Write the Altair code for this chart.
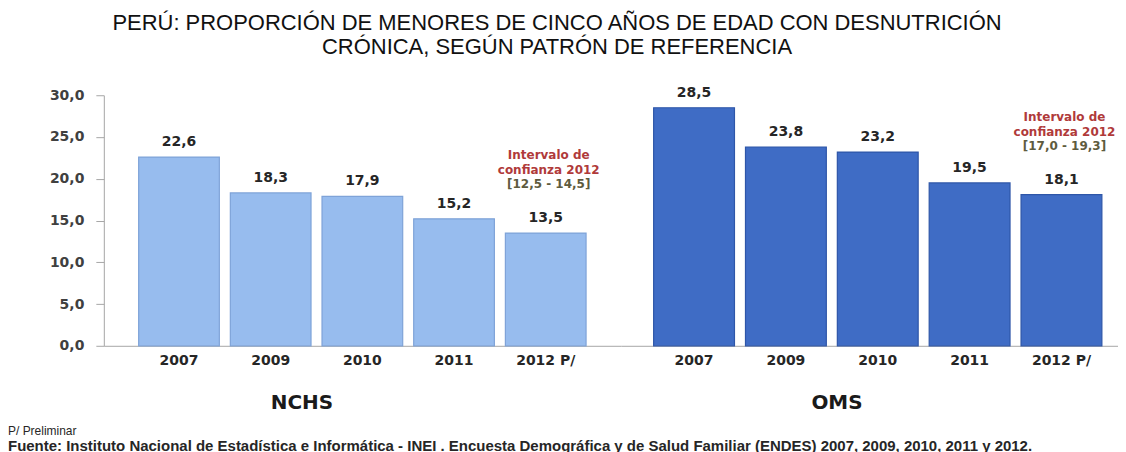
import altair as alt
import pandas as pd

# ---- data ----
years = ["2007", "2009", "2010", "2011", "2012 P/"]
nchs = [22.6, 18.3, 17.9, 15.2, 13.5]
oms = [28.5, 23.8, 23.2, 19.5, 18.1]
groups = ["NCHS", "OMS"]
ci_head = "Intervalo de\nconfianza 2012"
ci_ranges = ["[12,5 - 14,5]", "[17,0 - 19,3]"]
y_ticks = [0, 5, 10, 15, 20, 25, 30]

title_lines = [
    "PERÚ: PROPORCIÓN DE MENORES DE CINCO AÑOS DE EDAD CON DESNUTRICIÓN",
    "CRÓNICA,  SEGÚN PATRÓN DE REFERENCIA",
]
note = "P/ Preliminar"
source = ("Fuente: Instituto Nacional de Estadística e Informática - INEI . Encuesta Demográfica "
          "y de Salud Familiar (ENDES)  2007, 2009, 2010, 2011 y 2012.")

FONT = "DejaVu Sans"
COMMA = "replace(format(datum.value, '.1f'), '.', ',')"


def panel(values, group, ci, width, pad_outer, align, fill, stroke, title_x, show_y):
    df = pd.DataFrame({"year": years, "value": values})
    yaxis = None
    if show_y:
        yaxis = alt.Axis(values=y_ticks, labelExpr=COMMA, grid=False, tickSize=8,
                         tickColor="#A6A6A6", domainColor="#A6A6A6", labelPadding=12,
                         title=None, labelFont=FONT, labelFontSize=14,
                         labelFontWeight="bold", labelColor="#404040")
    base = alt.Chart(df).transform_calculate(
        label="replace(format(datum.value, '.1f'), '.', ',')"
    ).encode(
        x=alt.X("year:N", sort=years,
                scale=alt.Scale(paddingInner=0.12, paddingOuter=pad_outer, align=align),
                axis=alt.Axis(title=group, titleX=title_x, titleY=57, titleBaseline="middle",
                              titleAlign="center", titleFont=FONT, titleFontSize=20,
                              titleFontWeight="bold", titleColor="#1A1A1A",
                              labelAngle=0, ticks=False, labelPadding=8,
                              domainColor="#A6A6A6", labelFont=FONT, labelFontSize=14,
                              labelFontWeight="bold", labelColor="#262626")),
        y=alt.Y("value:Q", scale=alt.Scale(domain=[0, 30]), axis=yaxis),
    )
    bars = base.mark_bar(color=fill, stroke=stroke, strokeWidth=1.2)
    labels = base.mark_text(dy=-11, baseline="alphabetic", font=FONT, fontSize=14,
                            fontWeight="bold", color="#262626").encode(text="label:N")
    last = base.transform_filter(alt.datum.year == years[-1])
    head = last.mark_text(text=ci_head, lineBreak="\n", lineHeight=15, baseline="bottom",
                          dy=-71, dx=3, font=FONT, fontSize=12, fontWeight="bold",
                          color="#B03A3A")
    rng = last.mark_text(text=ci, baseline="bottom", dy=-42, dx=3, font=FONT, fontSize=12,
                         fontWeight="bold", color="#5E5B3E")
    return alt.layer(bars, labels, head, rng).properties(width=width, height=251)


left = panel(nchs, groups[0], ci_ranges[0], 518, 0.38, 0.5, "#97BCEE", "#7FA3D8", 198, True)
right = panel(oms, groups[1], ci_ranges[1], 498, 0.266, 0.67, "#3F6CC5", "#2E56A8", 216, False)

inner = alt.hconcat(left, right, spacing=0, bounds="flush").properties(
    title=alt.TitleParams(note, subtitle=source, orient="bottom", anchor="start",
                          frame="group", dx=-96, offset=13, font="Liberation Sans",
                          fontSize=12, fontWeight="normal", color="#262626",
                          subtitleFont="Liberation Sans", subtitleFontSize=15,
                          subtitleFontWeight="bold", subtitleColor="#262626",
                          subtitlePadding=1)
)

chart = alt.vconcat(inner).properties(
    title=alt.TitleParams(title_lines, anchor="middle", dx=-6, font="Liberation Sans",
                          fontSize=22, fontWeight="normal", color="#111111",
                          lineHeight=24, offset=27),
    padding={"left": 0, "top": 3, "right": 0, "bottom": 0},
).configure_view(stroke=None)

chart.save("out.html", embed_options={"renderer": "svg", "actions": False})
